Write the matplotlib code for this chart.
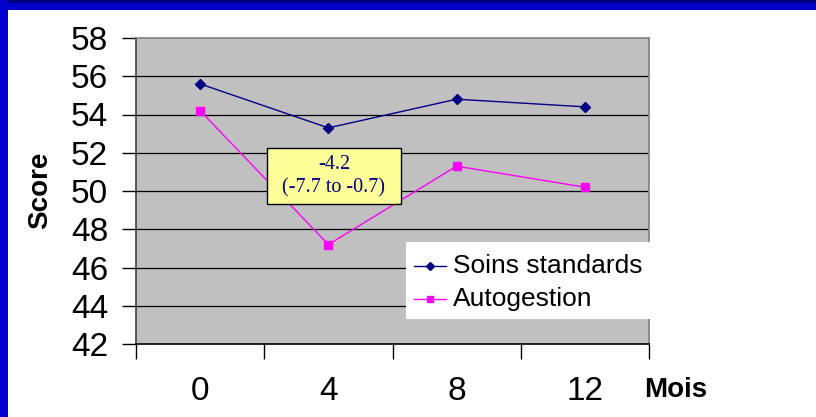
import matplotlib
matplotlib.use("Agg")
import matplotlib.pyplot as plt
from matplotlib.patches import Rectangle
from matplotlib.lines import Line2D

months = ["0", "4", "8", "12"]
soins = [55.6, 53.3, 54.8, 54.4]
autogestion = [54.2, 47.2, 51.3, 50.2]
series_names = ["Soins standards", "Autogestion"]
yticks = [42, 44, 46, 48, 50, 52, 54, 56, 58]
annot_text = "-4.2\n(-7.7 to -0.7)"

W, H = 816, 417
fig = plt.figure(figsize=(W / 100, H / 100), dpi=100)
fig.patch.set_facecolor("white")

def fx(px):
    return px / W

def fy(py):
    return 1 - py / H

# frame
fig.patches.append(Rectangle((0, fy(10)), 1, 10 / H, transform=fig.transFigure,
                             facecolor="#0000CC", edgecolor="none", zorder=0))
fig.patches.append(Rectangle((0, fy(3)), 1, 3 / H, transform=fig.transFigure,
                             facecolor="#000080", edgecolor="none", zorder=0))
fig.patches.append(Rectangle((0, 0), 8 / W, 1, transform=fig.transFigure,
                             facecolor="#0000CC", edgecolor="none", zorder=0))

left, right, top, bottom = 136, 649, 38, 344
ax = fig.add_axes([fx(left), fy(bottom), fx(right) - fx(left), (bottom - top) / H])
ax.set_facecolor("#C0C0C0")

x = list(range(len(months)))
ax.plot(x, soins, color="#000080", marker="D", markersize=5, linewidth=1.0,
        label=series_names[0], zorder=3)
ax.plot(x, autogestion, color="#FF00FF", marker="s", markersize=6, linewidth=1.0,
        label=series_names[1], zorder=3)

ax.set_xlim(-0.5, len(months) - 0.5)
ax.set_ylim(42, 58)
ax.set_yticks(yticks)
ax.set_yticklabels([str(v) for v in yticks], fontsize=24, family="Liberation Sans")
for v in yticks[1:-1]:
    ax.axhline(v, color="black", linewidth=0.9, zorder=1)

ax.set_xticks([i - 0.5 for i in range(len(months) + 1)])
ax.set_xticklabels([])
ax.tick_params(axis="x", direction="out", length=11, width=1, color="black")
ax.tick_params(axis="y", direction="out", length=10, width=1, color="black", pad=10)
for i, m in enumerate(months):
    ax.text(i, -0.155, m, transform=ax.get_xaxis_transform(), ha="center", va="center",
            fontsize=24, family="Liberation Sans")

for s in ["top", "right"]:
    ax.spines[s].set_color("#808080")
    ax.spines[s].set_linewidth(1.2)
ax.spines["left"].set_color("#404040")
ax.spines["left"].set_linewidth(1.2)
ax.spines["bottom"].set_color("black")
ax.spines["bottom"].set_linewidth(1.2)

fig.text(fx(40), fy(190), "Score", rotation=90, ha="center", va="center",
         fontsize=20, fontweight="bold", family="Liberation Sans")
fig.text(fx(676), fy(390), "Mois", ha="center", va="center",
         fontsize=20, fontweight="bold", family="Liberation Sans")

# annotation box
fig.patches.append(Rectangle((fx(267), fy(204)), (401 - 267) / W, (204 - 148) / H,
                             transform=fig.transFigure, facecolor="#FFFF99",
                             edgecolor="black", linewidth=1, zorder=5))
fig.text(fx(334), fy(176), annot_text, ha="center", va="center", fontsize=14.5,
         family="Liberation Serif", color="#000080", linespacing=1.3, zorder=6)

# legend
fig.patches.append(Rectangle((fx(406), fy(319)), (650 - 406) / W, (319 - 242) / H,
                             transform=fig.transFigure, facecolor="white",
                             edgecolor="none", zorder=5))
leg_rows = [(266, "#000080", "D", 5), (299, "#FF00FF", "s", 6)]
for (py, col, mk, ms), name in zip(leg_rows, series_names):
    fig.add_artist(Line2D([fx(414), fx(446)], [fy(py), fy(py)], transform=fig.transFigure,
                          color=col, linewidth=1.0, zorder=6))
    fig.add_artist(Line2D([fx(430)], [fy(py)], transform=fig.transFigure, color=col,
                          marker=mk, markersize=ms - 1, linestyle="none", zorder=6))
    fig.text(fx(453), fy(py), name, ha="left", va="center", fontsize=19,
             family="Liberation Sans", zorder=6)

fig.savefig("out.png", dpi=100)
